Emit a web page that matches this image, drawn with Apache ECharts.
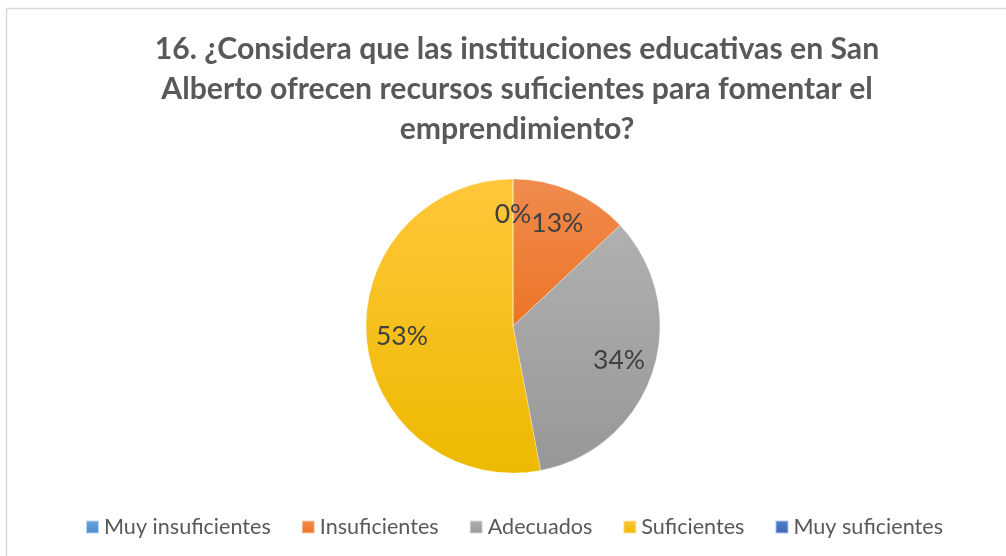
<!DOCTYPE html>
<html><head><meta charset="utf-8">
<script src="https://cdn.jsdelivr.net/npm/echarts@6/dist/echarts.min.js"></script>
<style>html,body{margin:0;padding:0;background:#fff;}#c{width:1006px;height:556px;}</style>
</head><body><div id="c"></div>
<script>
const categories = ['Muy insuficientes', 'Insuficientes', 'Adecuados', 'Suficientes', 'Muy suficientes'];
const values = [0, 13, 34, 53, 0];
const titleText = '16. ¿Considera que las instituciones educativas en San\nAlberto ofrecen recursos suficientes para fomentar el\nemprendimiento?';
const colorsTop = ['#6AA6DC', '#F08B4E', '#B0B0B0', '#FFC73A', '#5380CC'];
const colorsBottom = ['#4A8ACB', '#EC7425', '#979797', '#EDB900', '#3A65B8'];

function grad(i) {
  return {type: 'linear', x: 0, y: 0, x2: 0, y2: 1,
    colorStops: [{offset: 0, color: colorsTop[i]}, {offset: 1, color: colorsBottom[i]}]};
}
const data = categories.map((n, i) => ({name: n, value: values[i], itemStyle: {color: grad(i)}}));
const labelData = categories.map((n, i) => ({name: n, value: values[i]}));

const chart = echarts.init(document.getElementById('c'), null, {renderer: 'canvas'});
chart.setOption({
  animation: false,
  backgroundColor: '#fff',
  title: {
    text: titleText, left: 512, top: 24, textAlign: 'center',
    textStyle: {fontFamily: 'Lato', fontWeight: 'bold', fontSize: 30.2, color: '#595959', lineHeight: 40}
  },
  legend: {
    top: 511, left: 80, itemWidth: 13, itemHeight: 13, itemGap: 30,
    icon: 'rect',
    textStyle: {fontFamily: 'Lato', fontSize: 21.6, color: '#595959'},
    data: categories
  },
  graphic: [{type: 'rect', shape: {x: 6.5, y: 8.5, width: 1100, height: 700},
    style: {fill: 'none', stroke: '#d9d9d9', lineWidth: 1.5}, silent: true, z: -1}],
  series: [{
    type: 'pie', center: [513, 326], radius: [0, 147], startAngle: 90, clockwise: true,
    label: {show: false}, labelLine: {show: false}, silent: true,
    percentPrecision: 0,
    itemStyle: {borderColor: 'rgba(255,255,255,0.6)', borderWidth: 0.5},
    data: data
  }, {
    type: 'pie', center: [513, 326], radius: [70, 147], startAngle: 90, clockwise: true,
    silent: true, percentPrecision: 0,
    itemStyle: {color: 'rgba(0,0,0,0)'},
    label: {show: true, position: 'inside', formatter: '{d}%', fontFamily: 'Lato', fontSize: 26.5, color: '#404040'},
    labelLine: {show: false},
    legendHoverLink: false,
    data: labelData
  }]
});
</script></body></html>
